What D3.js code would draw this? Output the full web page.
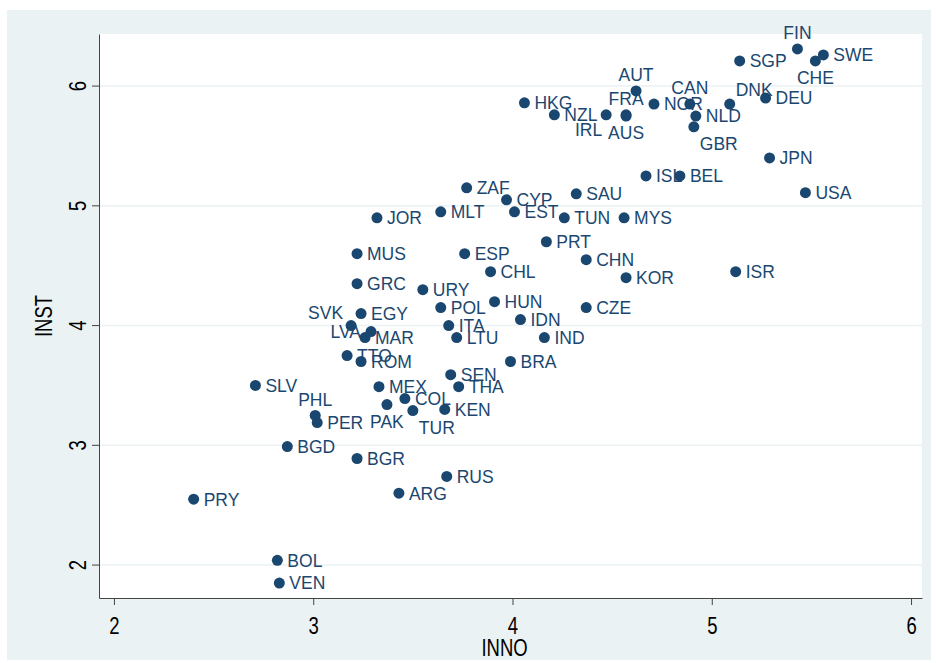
<!DOCTYPE html>
<html><head><meta charset="utf-8">
<script src="https://cdn.jsdelivr.net/npm/d3@7"></script>
<style>body{margin:0;background:#fff}</style>
</head><body><div id="chart"></div>
<script>
const countries = ["FIN","SGP","SWE","CHE","AUT","HKG","NZL","IRL","FRA","AUS","NOR","CAN","NLD","GBR","DNK","DEU","JPN","ISL","BEL","USA","SAU","ZAF","CYP","EST","MLT","JOR","TUN","MYS","PRT","MUS","ESP","CHN","CHL","KOR","ISR","GRC","URY","HUN","POL","CZE","EGY","SVK","LVA","MAR","ITA","IDN","LTU","IND","TTO","ROM","BRA","SEN","THA","SLV","MEX","PHL","PER","PAK","COL","TUR","KEN","BGD","BGR","RUS","ARG","PRY","BOL","VEN"];
const inno = [5.43,5.14,5.56,5.52,4.62,4.06,4.21,4.47,4.57,4.57,4.71,4.89,4.92,4.91,5.09,5.27,5.29,4.67,4.84,5.47,4.32,3.77,3.97,4.01,3.64,3.32,4.26,4.56,4.17,3.22,3.76,4.37,3.89,4.57,5.12,3.22,3.55,3.91,3.64,4.37,3.24,3.19,3.29,3.26,3.68,4.04,3.72,4.16,3.17,3.24,3.99,3.69,3.73,2.71,3.33,3.01,3.02,3.37,3.46,3.50,3.66,2.87,3.22,3.67,3.43,2.40,2.82,2.83];
const inst = [6.31,6.21,6.26,6.21,5.96,5.86,5.76,5.76,5.76,5.75,5.85,5.85,5.75,5.66,5.85,5.90,5.40,5.25,5.25,5.11,5.10,5.15,5.05,4.95,4.95,4.90,4.90,4.90,4.70,4.60,4.60,4.55,4.45,4.40,4.45,4.35,4.30,4.20,4.15,4.15,4.10,4.00,3.95,3.90,4.00,4.05,3.90,3.90,3.75,3.70,3.70,3.59,3.49,3.50,3.49,3.25,3.19,3.34,3.39,3.29,3.30,2.99,2.89,2.74,2.60,2.55,2.04,1.85];
// label position: r right, t top, b bottom, l left, tl top-left, bl bottom-left, br bottom-right, tr top-right
const labelPos = {FIN:"t",CHE:"b",AUT:"t",IRL:"bl",FRA:"t",AUS:"b",CAN:"t",GBR:"br",DNK:"tr",SVK:"tl",LVA:"l",PHL:"t",PAK:"b",TUR:"br"};
const xTicks = [2,3,4,5,6], yTicks = [2,3,4,5,6];

const W = 936, H = 663;
const pl = 99, pr = 922, pt = 34, pb = 598;
const font = "Liberation Sans, Arial, sans-serif";
const svg = d3.select("#chart").append("svg").attr("width", W).attr("height", H);
svg.append("rect").attr("x", 7).attr("y", 10).attr("width", 924).attr("height", 650).attr("fill", "#eaf2f3");
svg.append("rect").attr("x", pl).attr("y", pt).attr("width", pr - pl).attr("height", pb - pt).attr("fill", "#fff");

const x = d3.scaleLinear().domain([1.925, 6.055]).range([pl, pr]);
const y = d3.scaleLinear().domain([1.725, 6.435]).range([pb, pt]);

svg.append("g").selectAll("line").data(yTicks).enter().append("line")
    .attr("x1", pl).attr("x2", pr).attr("y1", d => y(d)).attr("y2", d => y(d))
    .attr("stroke", "#eaf2f3").attr("stroke-width", 1.5);

const xAxis = svg.append("g").attr("transform", `translate(0,${pb})`)
    .call(d3.axisBottom(x).tickValues(xTicks).tickSize(7).tickSizeOuter(0).tickFormat(d3.format("d")));
xAxis.selectAll("text").attr("font-size", 21).attr("dy", "1.05em").attr("fill", "#000")
    .attr("transform", "scale(0.9,1.1)").attr("x", function(d) { return 0; });
xAxis.selectAll(".tick text").attr("transform", "scale(0.88,1.12)");
const yAxis = svg.append("g").attr("transform", `translate(${pl},0)`)
    .call(d3.axisLeft(y).tickValues(yTicks).tickSize(7).tickSizeOuter(0).tickFormat(d3.format("d")));
yAxis.selectAll(".tick").attr("transform", null);
yAxis.selectAll(".tick line").attr("y1", d => y(d)).attr("y2", d => y(d));
yAxis.selectAll(".tick text").attr("font-size", 21).attr("fill", "#000")
    .attr("x", 0).attr("y", 0).attr("dy", "0.35em").style("text-anchor", "middle")
    .attr("transform", d => `translate(-21,${y(d)}) rotate(-90) scale(0.88,1.12)`);
svg.selectAll(".domain, .tick line").attr("stroke", "#444");
svg.selectAll(".tick text").attr("font-family", font);

svg.append("text").attr("transform", `translate(${(pl + pr) / 2 - 6},656) scale(0.88,1.12)`).attr("text-anchor", "middle")
    .attr("font-family", font).attr("font-size", 21).text("INNO");
svg.append("text").attr("transform", `translate(52,${(pt + pb) / 2}) rotate(-90) scale(0.88,1.12)`).attr("text-anchor", "middle")
    .attr("font-family", font).attr("font-size", 21).text("INST");

const pts = countries.map((c, i) => ({c, x: inno[i], y: inst[i], p: labelPos[c] || "r"}));
const col = "#1a476f";
svg.append("g").selectAll("circle").data(pts).enter().append("circle")
    .attr("cx", d => x(d.x)).attr("cy", d => y(d.y)).attr("r", 5.5).attr("fill", col);
const off = {r:[10,0,"start"], t:[0,-16,"middle"], b:[0,17,"middle"], l:[-10,0,"end"],
    tl:[-8,-13,"end"], bl:[-4,15,"end"], br:[6,17,"start"], tr:[6,-14,"start"]};
svg.append("g").selectAll("text").data(pts).enter().append("text")
    .attr("x", d => x(d.x) + off[d.p][0]).attr("y", d => y(d.y) + off[d.p][1])
    .attr("dy", "0.36em").attr("text-anchor", d => off[d.p][2])
    .attr("font-family", font).attr("font-size", 17.5).attr("fill", col)
    .text(d => d.c);
</script></body></html>
